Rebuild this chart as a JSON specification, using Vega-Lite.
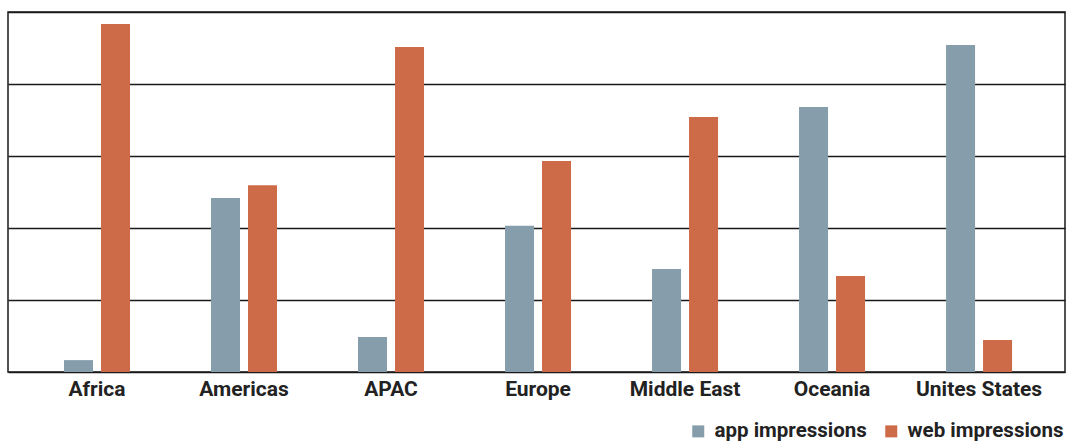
{
  "$schema": "https://vega.github.io/schema/vega-lite/v6.json",
  "width": 1057,
  "height": 360,
  "autosize": {"type": "none"},
  "padding": {"left": 8, "top": 12, "right": 2, "bottom": 71},
  "background": "white",
  "config": {
    "view": {"stroke": "#1a1a1a", "strokeWidth": 1.5},
    "font": "Roboto"
  },
  "data": {
    "values": [
      {"region": "Africa", "type": "app impressions", "value": 3.3},
      {"region": "Africa", "type": "web impressions", "value": 96.7},
      {"region": "Americas", "type": "app impressions", "value": 48.3},
      {"region": "Americas", "type": "web impressions", "value": 51.9},
      {"region": "APAC", "type": "app impressions", "value": 9.7},
      {"region": "APAC", "type": "web impressions", "value": 90.3},
      {"region": "Europe", "type": "app impressions", "value": 40.6},
      {"region": "Europe", "type": "web impressions", "value": 58.6},
      {"region": "Middle East", "type": "app impressions", "value": 28.6},
      {"region": "Middle East", "type": "web impressions", "value": 70.8},
      {"region": "Oceania", "type": "app impressions", "value": 73.6},
      {"region": "Oceania", "type": "web impressions", "value": 26.7},
      {"region": "Unites States", "type": "app impressions", "value": 90.8},
      {"region": "Unites States", "type": "web impressions", "value": 8.9}
    ]
  },
  "mark": {"type": "bar"},
  "encoding": {
    "x": {
      "field": "region",
      "type": "nominal",
      "sort": null,
      "scale": {"paddingInner": 0.551, "paddingOuter": 0.3705, "align": 0.514},
      "axis": {
        "title": null,
        "labelAngle": 0,
        "labelFont": "Roboto",
        "labelFontWeight": "bold",
        "labelFontSize": 21,
        "labelColor": "#222222",
        "labelPadding": 6,
        "ticks": false,
        "domain": false,
        "grid": false
      }
    },
    "xOffset": {
      "field": "type",
      "type": "nominal",
      "scale": {"paddingInner": 0.216, "paddingOuter": 0}
    },
    "y": {
      "field": "value",
      "type": "quantitative",
      "scale": {"domain": [0, 100], "nice": false},
      "axis": {
        "title": null,
        "labels": false,
        "ticks": false,
        "domain": false,
        "values": [0, 20, 40, 60, 80, 100],
        "grid": true,
        "gridColor": "#1a1a1a",
        "gridWidth": 1.5,
        "gridOpacity": 1
      }
    },
    "color": {
      "field": "type",
      "type": "nominal",
      "scale": {"domain": ["app impressions", "web impressions"], "range": ["#869DAB", "#CD6B48"]},
      "legend": {
        "title": null,
        "orient": "none",
        "legendX": 680,
        "legendY": 409,
        "padding": 0,
        "direction": "horizontal",
        "columns": 2,
        "symbolType": "square",
        "symbolSize": 144,
        "symbolStrokeWidth": 0,
        "symbolOpacity": 1,
        "labelFont": "Roboto",
        "labelFontWeight": "bold",
        "labelFontSize": 20.5,
        "labelColor": "#222222",
        "labelOffset": 6,
        "columnPadding": 14,
        "labelLimit": 300
      }
    }
  }
}
